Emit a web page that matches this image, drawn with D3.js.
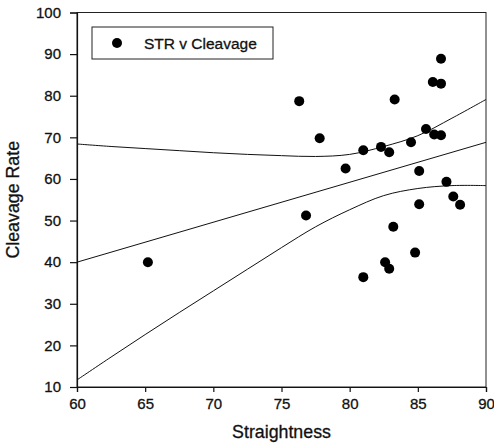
<!DOCTYPE html>
<html>
<head>
<meta charset="utf-8">
<script src="https://cdn.jsdelivr.net/npm/d3@7"></script>
<style>
  body { margin: 0; background: #fff; }
  text { font-family: "Liberation Sans", Arial, sans-serif; fill: #111; stroke: #111; stroke-width: 0.3px; }
</style>
</head>
<body>
<div id="chart"></div>
<script>
// scatter points: straightness vs cleavage rate
const straightness = [65.2, 76.3, 76.8, 77.8, 79.7, 81.0, 81.0, 82.3, 82.9, 82.6, 82.9, 83.2, 83.3,
                      84.5, 84.8, 85.1, 85.1, 85.6, 86.1, 86.2, 86.7, 86.7, 86.7, 87.1, 87.6, 88.1];
const cleavage = [40.0, 78.7, 51.2, 69.8, 62.5, 66.9, 36.4, 67.7, 66.4, 40.0, 38.4, 48.5, 79.1,
                  68.8, 42.3, 61.9, 53.9, 72.0, 83.3, 70.7, 70.5, 82.9, 88.9, 59.3, 55.8, 53.8];

// regression line and confidence bands
const fitX = [60, 90];
const fitY = [40.0, 68.8];
const bandX = [60, 62.5, 65, 67.5, 70, 72.5, 75, 77.5, 80, 82.5, 85, 87.5, 90];
const upperY = [68.4, 67.8, 67.3, 66.8, 66.3, 65.9, 65.6, 65.4, 65.9, 67.8, 70.4, 74.6, 79.1];
const lowerY = [11.7, 17.2, 22.6, 27.9, 33.1, 38.3, 43.5, 48.5, 52.6, 56.0, 57.7, 58.4, 58.4];

const xTicks = [60, 65, 70, 75, 80, 85, 90];
const yTicks = [10, 20, 30, 40, 50, 60, 70, 80, 90, 100];

const width = 494, height = 444;
const margin = {left: 77, right: 8, top: 12.5, bottom: 57};

const svg = d3.select("#chart").append("svg")
  .attr("width", width)
  .attr("height", height);

const x = d3.scaleLinear().domain([60, 90]).range([margin.left, width - margin.right]);
const y = d3.scaleLinear().domain([10, 100]).range([height - margin.bottom, margin.top]);

// frame (top and right)
svg.append("rect")
  .attr("x", x(60)).attr("y", y(100))
  .attr("width", x(90) - x(60)).attr("height", y(10) - y(100))
  .attr("fill", "none")
  .attr("stroke", "#222")
  .attr("stroke-width", 1);

const xAxis = svg.append("g")
  .attr("transform", `translate(0,${y(10)})`)
  .call(d3.axisBottom(x).tickValues(xTicks).tickSize(5).tickPadding(6));

const yAxis = svg.append("g")
  .attr("transform", `translate(${x(60)},0)`)
  .call(d3.axisLeft(y).tickValues(yTicks).tickSize(7).tickPadding(9));

[xAxis, yAxis].forEach(g => {
  g.selectAll("path, line").attr("stroke", "#111").attr("stroke-width", 1.2);
  g.selectAll("text").style("font-size", "15px").attr("fill", "#111");
});

// axis titles
svg.append("text")
  .attr("x", (x(60) + x(90)) / 2)
  .attr("y", 438)
  .attr("text-anchor", "middle")
  .style("font-size", "17.8px")
  .text("Straightness");

svg.append("text")
  .attr("transform", `translate(19,${(y(10) + y(100)) / 2}) rotate(-90)`)
  .attr("text-anchor", "middle")
  .style("font-size", "17.8px")
  .text("Cleavage Rate");

// lines
const line = d3.line().curve(d3.curveCatmullRom);

const lines = [
  d3.zip(fitX, fitY),
  d3.zip(bandX, upperY),
  d3.zip(bandX, lowerY)
];

svg.append("g")
  .selectAll("path")
  .data(lines)
  .enter().append("path")
    .attr("d", d => line(d.map(p => [x(p[0]), y(p[1])])))
    .attr("fill", "none")
    .attr("stroke", "#111")
    .attr("stroke-width", 1);

// points
svg.append("g")
  .selectAll("circle")
  .data(d3.zip(straightness, cleavage))
  .enter().append("circle")
    .attr("cx", d => x(d[0]))
    .attr("cy", d => y(d[1]))
    .attr("r", 5)
    .attr("fill", "#000");

// legend
const legend = svg.append("g");
legend.append("rect")
  .attr("x", 92).attr("y", 27)
  .attr("width", 181).attr("height", 32)
  .attr("fill", "#fff")
  .attr("stroke", "#222")
  .attr("stroke-width", 1);
legend.append("circle")
  .attr("cx", 117).attr("cy", 43)
  .attr("r", 5)
  .attr("fill", "#000");
legend.append("text")
  .attr("x", 144).attr("y", 48.5)
  .style("font-size", "15.5px")
  .text("STR v Cleavage");
</script>
</body>
</html>
